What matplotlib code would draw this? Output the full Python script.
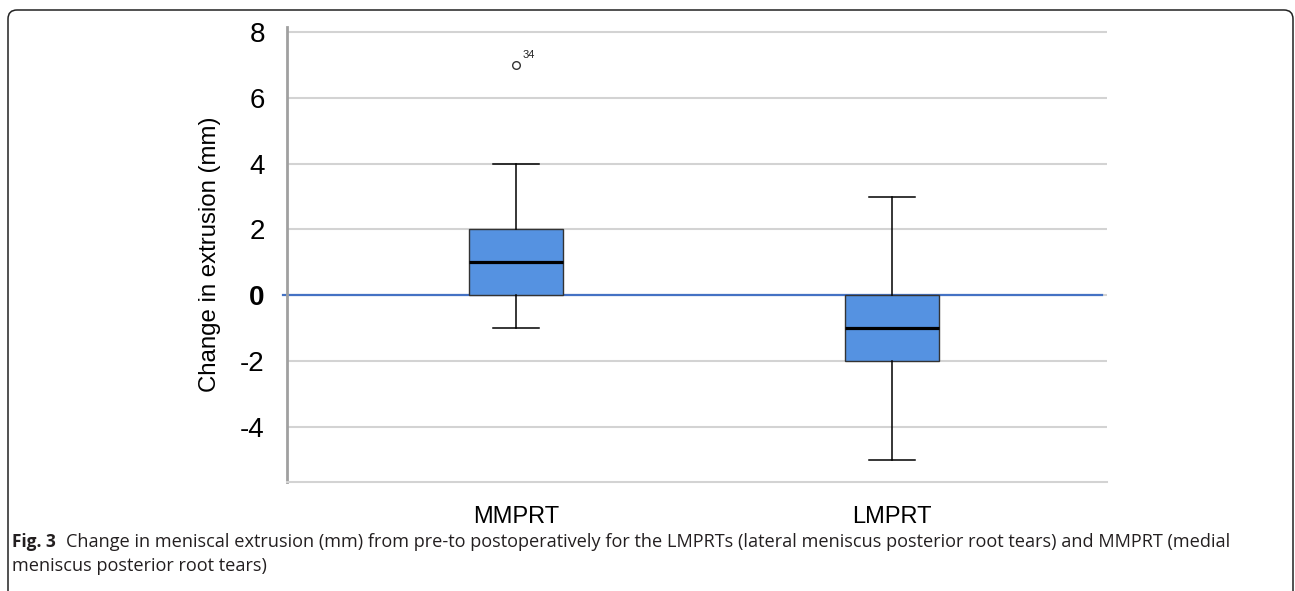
import matplotlib
matplotlib.use('Agg')
import matplotlib.pyplot as plt
from matplotlib.patches import FancyBboxPatch

# data
groups = ['MMPRT', 'LMPRT']
q1 = [0, -2]
medians = [1, -1]
q3 = [2, 0]
whisker_low = [-1, -5]
whisker_high = [4, 3]
outliers = [[7], []]
outlier_ids = [['34'], []]
yticks = [-4, -2, 0, 2, 4, 6, 8]

box_color = '#5592e1'
zero_color = '#4472c4'
grid_color = '#d3d3d3'

plt.rcParams['font.family'] = ['Liberation Sans', 'DejaVu Sans']

fig = plt.figure(figsize=(12.95, 5.91), dpi=100)
ax = fig.add_axes([287 / 1295, 1 - 482 / 591, 820 / 1295, 455 / 591])

positions = [1, 2]
stats = []
for i, g in enumerate(groups):
    stats.append(dict(label=g, q1=q1[i], med=medians[i], q3=q3[i],
                      whislo=whisker_low[i], whishi=whisker_high[i],
                      fliers=outliers[i]))

ax.set_axisbelow(True)
ax.grid(axis='y', color=grid_color, linewidth=1.5)

# zero reference line, slightly longer than the axis on the left
ax.plot([0.380, 2.559], [0, 0], color=zero_color, linewidth=1.6,
        clip_on=False, zorder=1.5)

ax.bxp(stats, positions=positions, widths=0.25, capwidths=0.122,
       patch_artist=True, zorder=3,
       boxprops=dict(facecolor=box_color, edgecolor='#333333', linewidth=1.0),
       medianprops=dict(color='black', linewidth=2.3),
       whiskerprops=dict(color='black', linewidth=1.1),
       capprops=dict(color='black', linewidth=1.1),
       flierprops=dict(marker='o', markersize=5.5, markerfacecolor='white',
                       markeredgecolor='#333333', markeredgewidth=1.0))

for i, pos in enumerate(positions):
    for val, lab in zip(outliers[i], outlier_ids[i]):
        ax.annotate(lab, (pos, val), xytext=(5, 5), textcoords='offset points',
                    fontsize=8, color='#222222')

ax.set_xlim(0.391, 2.572)
ax.set_ylim(-5.67, 8.15)
ax.set_yticks(yticks)
ax.set_yticklabels([str(t) for t in yticks])
for lbl in ax.get_yticklabels():
    if lbl.get_text() == '0':
        lbl.set_fontweight('bold')
ax.tick_params(axis='y', length=0, pad=16, labelsize=20)
ax.tick_params(axis='x', length=0, pad=17, labelsize=17)
ax.set_xticks(positions)
ax.set_xticklabels(groups)

for s in ['top', 'right']:
    ax.spines[s].set_visible(False)
ax.spines['left'].set_color('#a0a0a0')
ax.spines['left'].set_linewidth(2)
ax.spines['bottom'].set_color(grid_color)
ax.spines['bottom'].set_linewidth(1.5)

ax.set_ylabel('Change in extrusion (mm)', fontsize=17.3, labelpad=14)

# caption
cap_font = ['Open Sans', 'DejaVu Sans']
cap_size = 13.1
fig.text(12 / 1295, 1 - 547 / 591, 'Fig. 3', fontsize=12.4, fontweight='bold',
         family=cap_font, color='#231f20')
fig.text(66 / 1295, 1 - 547 / 591,
         'Change in meniscal extrusion (mm) from pre-to postoperatively for the '
         'LMPRTs (lateral meniscus posterior root tears) and MMPRT (medial',
         fontsize=cap_size, family=cap_font, color='#231f20')
fig.text(12 / 1295, 1 - 571 / 591, 'meniscus posterior root tears)',
         fontsize=cap_size, family=cap_font, color='#231f20')

# rounded frame around the figure (pixel coordinates, bottom edge runs off the image)
frame = FancyBboxPatch((8, -10), 1285, 591,
                       boxstyle='round,pad=0,rounding_size=9',
                       transform=None, fill=False, edgecolor='#222222',
                       linewidth=1.1, clip_on=False)
fig.patches.append(frame)

fig.savefig('out.png', dpi=100)
